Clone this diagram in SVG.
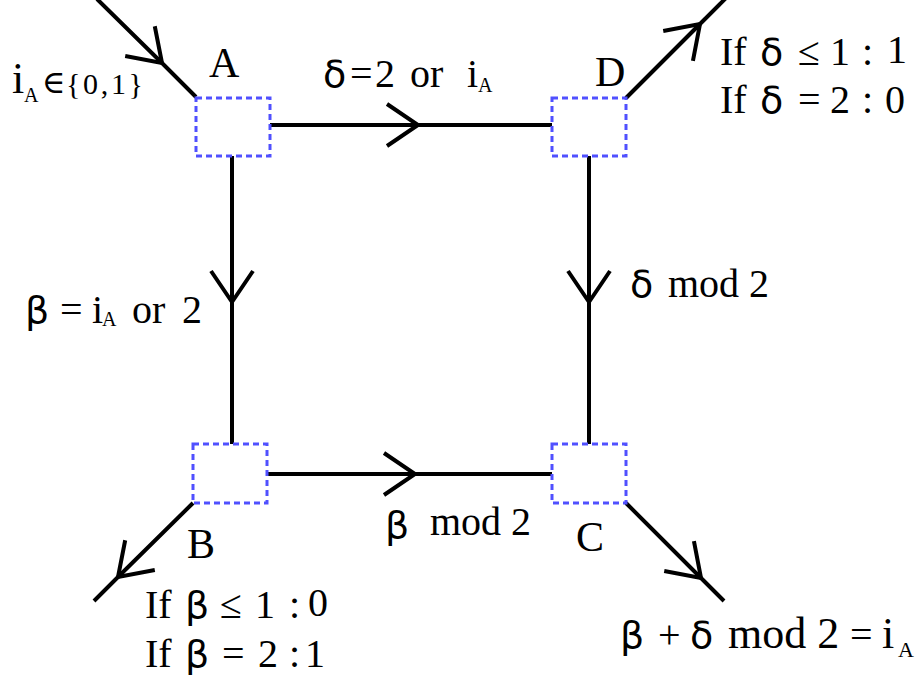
<svg xmlns="http://www.w3.org/2000/svg" width="922" height="684" viewBox="0 0 922 684">
<style>
.t{font-family:"Liberation Serif","DejaVu Serif",serif;font-size:40px;fill:#000}
.n{font-size:42px}
.g{font-family:"DejaVu Sans",sans-serif;font-size:38px}
.s{font-size:20px}
.box{fill:none;stroke:#5050ff;stroke-width:3;stroke-dasharray:6 4}
.edge{fill:none;stroke:#000;stroke-width:4;marker-mid:url(#v)}
</style>
<defs>
<marker id="v" viewBox="-36 -26 40 52" refX="0" refY="0" markerWidth="40" markerHeight="52" markerUnits="userSpaceOnUse" orient="auto">
<path d="M-31,-21 L0,0 L-31,21" fill="none" stroke="#000" stroke-width="4"/>
</marker>
</defs>
<rect width="922" height="684" fill="#fff"/>
<g id="connectors">
<path class="edge" d="M97,-1 L162,63 L196,97"/>
<path class="edge" d="M270,125 L418,125 L552,125"/>
<path class="edge" d="M626,98 L700,24 L727,-3"/>
<path class="edge" d="M232,156 L232,302 L232,444"/>
<path class="edge" d="M589,156 L589,302 L589,444"/>
<path class="edge" d="M267,474 L415,474 L552,474"/>
<path class="edge" d="M193,503 L118,577 L94,601"/>
<path class="edge" d="M626,503 L701,578 L724,601"/>
</g>
<g id="node-A">
<rect class="box" x="196" y="98" width="74" height="58"/>
<text class="t n" x="209" y="77">A</text>
</g>
<g id="node-D">
<rect class="box" x="552" y="98" width="74" height="58"/>
<text class="t n" x="595" y="86">D</text>
</g>
<g id="node-B">
<rect class="box" x="193" y="444" width="74" height="59"/>
<text class="t n" x="187" y="558">B</text>
</g>
<g id="node-C">
<rect class="box" x="552" y="444" width="74" height="59"/>
<text class="t n" x="576" y="551">C</text>
</g>
<g id="labels">
<text class="t"><tspan x="12" y="93" font-size="44">i</tspan><tspan x="24" y="102" class="s">A</tspan><tspan x="42" y="93" font-size="32">∈</tspan><tspan x="66" y="94" font-size="30" textLength="77">{0,1}</tspan></text>
<text class="t"><tspan x="323" y="87" class="g">δ</tspan><tspan x="350" y="87">=</tspan><tspan x="375" y="87">2</tspan><tspan x="410" y="87">or</tspan><tspan x="467" y="87">i</tspan><tspan x="478" y="92" class="s">A</tspan></text>
<text class="t"><tspan x="720" y="65">If</tspan><tspan x="760" y="65" class="g">δ</tspan><tspan x="798" y="65">≤</tspan><tspan x="830" y="65">1</tspan><tspan x="862" y="65">:</tspan><tspan x="887" y="63">1</tspan></text>
<text class="t"><tspan x="720" y="113">If</tspan><tspan x="760" y="113" class="g">δ</tspan><tspan x="798" y="113">=</tspan><tspan x="830" y="113">2</tspan><tspan x="862" y="113">:</tspan><tspan x="885" y="113">0</tspan></text>
<text class="t"><tspan x="25" y="323" class="g">β</tspan><tspan x="60" y="323">=</tspan><tspan x="92" y="323">i</tspan><tspan x="102" y="326" class="s">A</tspan><tspan x="132" y="323">or</tspan><tspan x="182" y="323">2</tspan></text>
<text class="t"><tspan x="630" y="297" class="g" font-size="40">δ</tspan><tspan x="668" y="297">mod 2</tspan></text>
<text class="t"><tspan x="385" y="538" class="g" font-size="44">β</tspan><tspan x="430" y="535">mod 2</tspan></text>
<text class="t"><tspan x="145" y="618">If</tspan><tspan x="185" y="618" class="g">β</tspan><tspan x="220" y="618">≤</tspan><tspan x="255" y="618">1</tspan><tspan x="289" y="618">:</tspan><tspan x="308" y="616">0</tspan></text>
<text class="t"><tspan x="145" y="667">If</tspan><tspan x="185" y="667" class="g">β</tspan><tspan x="222" y="667">=</tspan><tspan x="258" y="667">2</tspan><tspan x="289" y="667">:</tspan><tspan x="305" y="667">1</tspan></text>
<text class="t"><tspan x="620" y="648" class="g">β</tspan><tspan x="658" y="648">+</tspan><tspan x="690" y="648" class="g">δ</tspan><tspan x="728" y="648" font-size="44">mod 2</tspan><tspan x="850" y="648">=</tspan><tspan x="882" y="648" font-size="44">i</tspan><tspan x="898" y="657" font-size="22">A</tspan></text>
</g>
</svg>
